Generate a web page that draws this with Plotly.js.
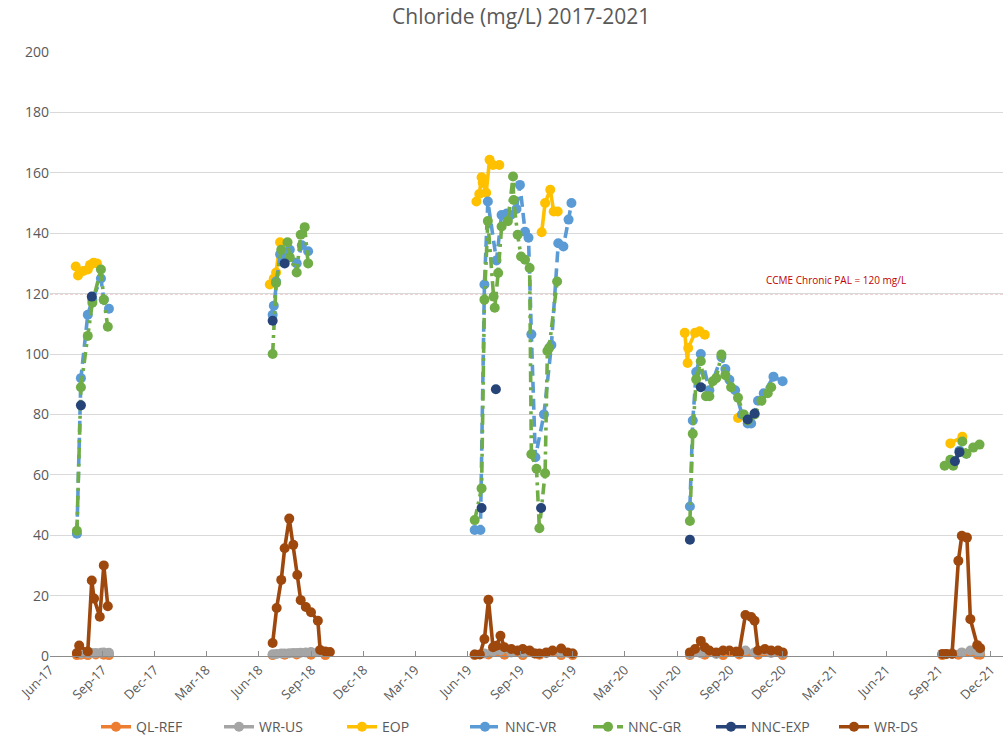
<!DOCTYPE html>
<html>
<head>
<meta charset="utf-8">
<script src="https://cdn.plot.ly/plotly-3.0.1.min.js"></script>
<style>
  html, body { margin: 0; padding: 0; background: #ffffff; }
  #chart { width: 1008px; height: 747px; }
</style>
</head>
<body>
<div id="chart"></div>
<script>
// Chloride sampling results (mg/L), 2017-2021 open-water seasons.
// A null date/value pair marks a break between sampling seasons.

const QL_REF_dates = ['2017-07-18','2017-07-25','2017-08-06','2017-08-20','2017-09-03','2017-09-12', null,
  '2018-06-25','2018-07-16','2018-08-06','2018-08-31','2018-09-25', null,
  '2019-06-13','2019-07-07','2019-08-04','2019-09-05','2019-10-04','2019-11-11','2019-12-01', null,
  '2020-06-23','2020-07-19','2020-08-20','2020-09-17','2020-10-20','2020-12-02', null,
  '2021-09-07','2021-10-05','2021-11-07','2021-11-12'];
const QL_REF_values = [0.3,0.4,0.3,0.5,0.4,0.3, null,
  0.3,0.4,0.5,0.4,0.3, null,
  0.3,0.5,0.4,0.3,0.4,0.3,0.3, null,
  0.3,0.4,0.3,0.5,0.4,0.3, null,
  0.3,0.4,0.5,0.4];

const WR_US_dates = ['2017-07-25','2017-08-06','2017-08-13','2017-08-20','2017-08-29','2017-09-03','2017-09-12', null,
  '2018-06-25','2018-07-02','2018-07-10','2018-07-16','2018-07-24','2018-07-31','2018-08-07','2018-08-13','2018-08-22','2018-08-31','2018-09-12','2018-09-16', null,
  '2019-06-13','2019-06-30','2019-07-15','2019-07-28','2019-08-16','2019-09-05','2019-09-26','2019-10-16','2019-11-11','2019-12-01', null,
  '2020-06-23','2020-07-12','2020-08-08','2020-09-12','2020-09-28','2020-10-14','2020-11-12','2020-12-02', null,
  '2021-09-14','2021-09-24','2021-10-11','2021-10-26','2021-11-07','2021-11-12'];
const WR_US_values = [0.8,0.9,1.0,1.0,1.1,1.2,1.1, null,
  0.6,0.7,0.8,0.8,0.9,1.0,1.0,1.1,1.2,1.3,1.3,1.4, null,
  0.5,0.8,1.5,1.8,1.2,1.0,0.8,0.9,1.0,0.8, null,
  0.6,0.9,0.7,1.5,1.8,1.2,1.0,0.8, null,
  0.7,0.9,1.2,1.8,1.6,1.3];

const EOP_dates = ['2017-07-16','2017-07-20','2017-07-29','2017-08-06','2017-08-10','2017-08-16','2017-08-22', null,
  '2018-06-20','2018-06-27','2018-07-01','2018-07-08', null,
  '2019-06-16','2019-06-21','2019-06-25','2019-06-27','2019-07-03','2019-07-09','2019-07-15','2019-07-26', null,
  '2019-10-08','2019-10-14','2019-10-23','2019-10-29','2019-11-05', null,
  '2020-06-14','2020-06-19','2020-06-20','2020-07-02','2020-07-10','2020-07-19', null,
  '2020-09-15', null,
  '2021-09-21','2021-10-12'];
const EOP_values = [129,126,127.5,128,129.5,130.2,130, null,
  123,125,127,137, null,
  150.5,153,158.5,156.7,153.4,164.3,162.6,162.6, null,
  140.3,150,154.4,147.2,147.2, null,
  107,97,102,107,107.5,106.4, null,
  78.8, null,
  70.4,72.6];

const NNC_VR_dates = ['2017-07-18','2017-07-25','2017-08-06','2017-08-14','2017-08-29','2017-09-03','2017-09-12', null,
  '2018-06-25','2018-06-27','2018-07-01','2018-07-08','2018-07-16','2018-07-25','2018-08-06','2018-08-15','2018-08-26', null,
  '2019-06-13','2019-06-23','2019-06-30','2019-07-06','2019-07-21','2019-07-30','2019-08-08','2019-08-15','2019-08-25','2019-08-31','2019-09-09','2019-09-15','2019-09-20','2019-09-27','2019-10-12','2019-10-25','2019-11-06','2019-11-15','2019-11-24','2019-11-29', null,
  '2020-06-23','2020-06-28','2020-07-04','2020-07-12','2020-07-27','2020-08-17','2020-08-24','2020-08-31','2020-09-10','2020-09-22','2020-10-02','2020-10-08','2020-10-20','2020-10-30','2020-11-16','2020-12-02', null,
  '2021-09-26','2021-10-07','2021-10-19'];
const NNC_VR_values = [40.5,92,113,118,125,118,115, null,
  113,116,124,133,132,134.5,130,136,134, null,
  41.7,41.7,123,150.5,131,146,146.5,146,148,156,140.5,138.5,106.5,65.8,80,103,136.7,135.6,144.5,150, null,
  49.5,78,94,100,88,99,95,91.5,88,80,77,77,84.5,87,92.5,91, null,
  64,68,67];

const NNC_GR_dates = ['2017-07-18','2017-07-25','2017-08-06','2017-08-14','2017-08-29','2017-09-03','2017-09-10', null,
  '2018-06-25','2018-07-01','2018-07-10','2018-07-21','2018-07-25','2018-08-06','2018-08-13','2018-08-20','2018-08-26', null,
  '2019-06-13','2019-06-25','2019-06-30','2019-07-06','2019-07-16','2019-07-18','2019-07-24','2019-07-30','2019-08-10','2019-08-19','2019-08-20','2019-08-27','2019-09-02','2019-09-09','2019-09-17','2019-09-20','2019-09-29','2019-10-04','2019-10-14','2019-10-18','2019-10-21','2019-11-04', null,
  '2020-06-23','2020-06-28','2020-07-04','2020-07-12','2020-07-21','2020-07-27','2020-08-02','2020-08-08','2020-08-17','2020-08-24','2020-09-03','2020-09-15','2020-09-25','2020-10-02','2020-10-14','2020-10-26','2020-11-06','2020-11-12', null,
  '2021-09-11','2021-09-21','2021-09-26','2021-10-12','2021-10-19','2021-10-31','2021-11-11'];
const NNC_GR_values = [41.5,89,106,117,128,118,109, null,
  100,123.5,134.5,137,132,127,139.5,142,130, null,
  45,55.5,118,144,119,115.3,126.8,142.2,144,158.8,151,139.5,132.3,131.2,128.5,66.8,62,42.3,60.5,101,102,124, null,
  44.7,73.6,91.6,97.6,86,86,91,92,99.8,93,89,85.5,80,78,80,84.5,87,89, null,
  63,65,63,71,67,69,70];

const NNC_EXP_dates = ['2017-07-25', null, '2017-08-13', null,
  '2018-06-25', null, '2018-07-16', null,
  '2019-06-25', null, '2019-07-20', null, '2019-10-07', null,
  '2020-06-23', null, '2020-07-12', null, '2020-10-02','2020-10-14', null,
  '2021-09-29','2021-10-07'];
const NNC_EXP_values = [83, null, 119, null,
  111, null, 130, null,
  49, null, 88.3, null, 49, null,
  38.5, null, 89, null, 78.3, 80.3, null,
  64.5, 67.5];

const WR_DS_dates = ['2017-07-18','2017-07-22','2017-08-06','2017-08-13','2017-08-17','2017-08-27','2017-09-03','2017-09-10', null,
  '2018-06-25','2018-07-02','2018-07-10','2018-07-16','2018-07-24','2018-07-31','2018-08-07','2018-08-13','2018-08-22','2018-08-31','2018-09-12','2018-09-16','2018-09-25','2018-10-03', null,
  '2019-06-13','2019-06-22','2019-06-30','2019-07-07','2019-07-15','2019-07-21','2019-07-28','2019-08-04','2019-08-16','2019-08-27','2019-09-05','2019-09-17','2019-09-26','2019-10-04','2019-10-16','2019-10-27','2019-11-11','2019-11-22','2019-12-01', null,
  '2020-06-23','2020-07-02','2020-07-12','2020-07-19','2020-07-27','2020-08-08','2020-08-20','2020-08-31','2020-09-12','2020-09-17','2020-09-28','2020-10-08','2020-10-14','2020-10-20','2020-11-01','2020-11-12','2020-11-24','2020-12-02', null,
  '2021-09-07','2021-09-14','2021-09-24','2021-10-05','2021-10-11','2021-10-20','2021-10-26','2021-11-07','2021-11-12'];
const WR_DS_values = [1,3.5,1.5,25,19,13,30,16.5, null,
  4.3,15.9,25.2,35.7,45.5,36.8,26.8,18.5,16.2,14.5,11.7,2,1.5,1.3, null,
  0.5,0.5,5.6,18.6,2.9,3.4,6.7,2.9,2.3,1.8,2.3,1.8,0.8,0.8,1.2,1.8,2.5,1.2,0.8, null,
  1.2,2.3,5,2.9,1.8,1.2,1.8,1.8,1.4,1.2,13.6,12.9,11.7,1.8,2.3,1.8,1.8,1.2, null,
  0.7,0.7,0.7,31.5,39.8,39.2,12.2,3.6,2.6];

const PAL_VALUE = 120;
const PAL_LABEL = 'CCME Chronic PAL = 120 mg/L';

const FONT = '"Open Sans", "Noto Sans", sans-serif';
const TXT = '#595959';

function series(name, x, y, color, dash) {
  return {
    type: 'scatter', mode: 'lines+markers', name: name,
    x: x, y: y, connectgaps: false, cliponaxis: false,
    line: { color: color, width: 3.6, dash: dash || 'solid' },
    marker: { color: color, size: 10, symbol: 'circle' }
  };
}

const traces = [
  series('QL-REF', QL_REF_dates, QL_REF_values, '#ED7D31'),
  series('WR-US', WR_US_dates, WR_US_values, '#A5A5A5'),
  series('EOP', EOP_dates, EOP_values, '#FFC000'),
  series('NNC-VR', NNC_VR_dates, NNC_VR_values, '#5B9BD5', '11px,6px'),
  series('NNC-GR', NNC_GR_dates, NNC_GR_values, '#70AD47', '11px,5px,3px,5px'),
  series('NNC-EXP', NNC_EXP_dates, NNC_EXP_values, '#264478'),
  series('WR-DS', WR_DS_dates, WR_DS_values, '#9E480E')
];

const layout = {
  width: 1008, height: 747,
  paper_bgcolor: '#ffffff', plot_bgcolor: '#ffffff',
  margin: { l: 50, r: 5, t: 52, b: 90 },
  font: { family: FONT, color: TXT, size: 13 },
  title: { text: 'Chloride (mg/L) 2017-2021', x: 0.517, xanchor: 'center', y: 0.978, yanchor: 'middle',
           font: { family: FONT, size: 21, color: TXT } },
  showlegend: true,
  legend: { orientation: 'h', x: 0.5, xanchor: 'center', y: -0.116, yanchor: 'middle',
            entrywidth: 78, font: { family: FONT, size: 14, color: TXT }, traceorder: 'normal' },
  xaxis: {
    type: 'date', range: ['2017-06-01', '2021-12-22'],
    tick0: '2017-06-01', dtick: 'M3', tickformat: '%b-%y', tickangle: -45,
    showgrid: false, zeroline: false,
    showline: true, linecolor: '#8c8c8c', linewidth: 1.2,
    ticks: 'inside', ticklen: 5, tickcolor: '#8c8c8c',
    tickfont: { family: FONT, size: 13, color: TXT }
  },
  yaxis: {
    range: [0, 200], dtick: 20, tick0: 0,
    showgrid: true, gridcolor: '#d9d9d9', gridwidth: 1,
    zeroline: false, showline: false, ticks: '',
    tickfont: { family: FONT, size: 14, color: TXT }
  },
  shapes: [{
    type: 'line', xref: 'paper', x0: 0, x1: 1, yref: 'y', y0: PAL_VALUE, y1: PAL_VALUE,
    line: { color: '#C0504D', width: 1.3, dash: '3px,2px' }, layer: 'below'
  }],
  annotations: [{
    xref: 'paper', yref: 'y', x: 0.825, y: PAL_VALUE + 4.5, text: PAL_LABEL,
    showarrow: false, xanchor: 'center', yanchor: 'middle',
    font: { family: FONT, size: 10, color: '#C00000' }
  }]
};

Plotly.newPlot('chart', traces, layout, { displayModeBar: false, staticPlot: true });
</script>
</body>
</html>
